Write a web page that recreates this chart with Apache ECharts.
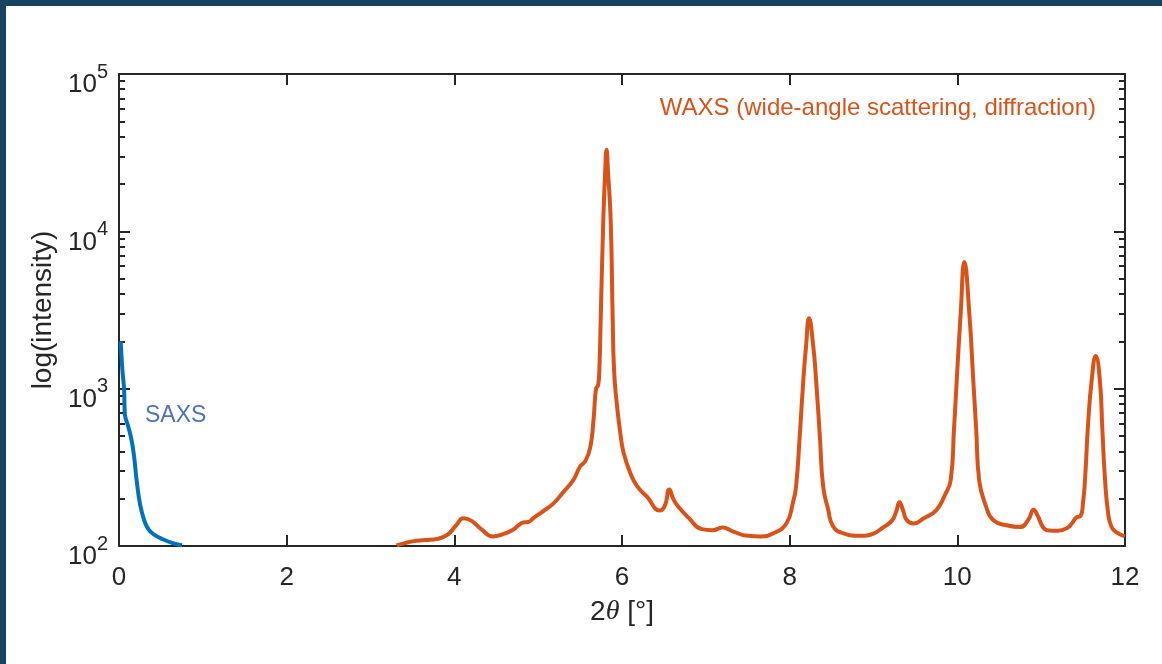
<!DOCTYPE html>
<html>
<head>
<meta charset="utf-8">
<script src="https://cdn.jsdelivr.net/npm/echarts@6/dist/echarts.min.js"></script>
<style>
html,body{margin:0;padding:0;background:#fff;}
#chart{width:1162px;height:664px;}
</style>
</head>
<body>
<div id="chart"></div>
<script>
// ---- data ----
const xTicks = [0, 2, 4, 6, 8, 10, 12];
const yMajor = [100, 1000, 10000, 100000];
const yMinor = [200,300,400,500,600,700,800,900,2000,3000,4000,5000,6000,7000,8000,9000,20000,30000,40000,50000,60000,70000,80000,90000];

const saxsData = [
  [0.02,2000],[0.04,1320],[0.06,1000],[0.07,690],[0.11,575],[0.15,470],[0.18,370],
  [0.21,263],[0.25,186],[0.30,146],[0.35,128],[0.41,119],[0.53,110],[0.65,104],[0.75,101]
];

const waxsData = [
  [3.31,101],[3.40,104],[3.50,107],[3.65,109],[3.80,111],[3.92,118],[4.02,135],[4.11,150],
  [4.20,145],[4.32,128],[4.46,115],[4.60,120],[4.70,127],[4.77,136],[4.82,141],[4.88,142],
  [4.94,150],[5.05,165],[5.18,186],[5.30,220],[5.42,263],[5.50,320],[5.56,345],[5.62,420],
  [5.66,630],[5.69,1000],[5.715,1050],[5.73,1320],[5.746,2770],[5.777,11800],[5.80,24500],
  [5.816,33000],[5.832,24500],[5.865,11800],[5.889,2770],[5.905,1320],[5.937,810],[5.98,520],
  [6.02,390],[6.10,290],[6.18,240],[6.30,205],[6.45,168],[6.51,180],[6.565,229],[6.61,200],
  [6.67,178],[6.80,150],[6.95,128],[7.08,126],[7.20,131],[7.32,124],[7.50,116],[7.65,115],
  [7.80,120],[7.96,139],[8.04,190],[8.076,238],[8.12,500],[8.163,1135],[8.195,1850],[8.231,2800],
  [8.282,1850],[8.315,1135],[8.36,500],[8.40,238],[8.46,170],[8.52,133],[8.65,120],[8.84,116],
  [9.00,120],[9.12,132],[9.22,145],[9.27,165],[9.31,190],[9.35,170],[9.40,145],[9.48,139],
  [9.60,150],[9.75,169],[9.85,210],[9.921,263],[9.96,550],[9.993,1135],[10.04,3010],[10.084,6380],
  [10.143,3010],[10.19,1135],[10.225,550],[10.26,263],[10.34,180],[10.43,146],[10.60,135],[10.75,132],
  [10.85,148],[10.91,170],[10.96,155],[11.02,132],[11.07,126],[11.20,125],[11.31,130],[11.37,140],
  [11.42,152],[11.47,155],[11.50,190],[11.523,263],[11.56,600],[11.603,1135],[11.651,1615],
  [11.70,1135],[11.73,550],[11.762,263],[11.80,160],[11.84,132],[11.90,122],[12.0,115]
];

const annotations = ['SAXS', 'WAXS (wide-angle scattering, diffraction)'];

// ---- chart ----
const FONT = 'Liberation Sans, Arial, Helvetica, sans-serif';
const AX = '#262626';
const chart = echarts.init(document.getElementById('chart'));

const tickFmt = v => '{b|10}{s|' + Math.round(Math.log10(v)) + '}';

const labelY = {
  type: 'log', logBase: 10, min: 100, max: 100000, position: 'left',
  axisLine: { show: true, onZero: false, lineStyle: { color: AX, width: 2 } },
  axisTick: { show: false },
  axisLabel: {
    show: true, formatter: tickFmt, margin: 11, padding: [12, 0, 0, 0],
    rich: {
      b: { fontSize: 26, fontFamily: FONT, color: AX, lineHeight: 36, verticalAlign: 'bottom' },
      s: { fontSize: 20, fontFamily: FONT, color: AX, lineHeight: 16, verticalAlign: 'top' }
    }
  },
  splitLine: { show: false },
  minorTick: { show: false },
  name: 'log(intensity)',
  nameLocation: 'middle', nameGap: 53,
  nameTextStyle: { fontSize: 28, fontFamily: FONT, color: AX }
};

function tickY(pos, values, len, line) {
  return {
    type: 'log', logBase: 10, min: 100, max: 100000, position: pos,
    axisLine: { show: line, onZero: false, lineStyle: { color: AX, width: 2 } },
    axisTick: { show: true, inside: true, length: len, customValues: values, lineStyle: { color: AX, width: 2 } },
    axisLabel: { show: false },
    splitLine: { show: false },
    minorTick: { show: false }
  };
}

chart.setOption({
  animation: false,
  backgroundColor: '#ffffff',
  grid: { left: 119, right: 37, top: 74, bottom: 118, outerBoundsMode: 'none', containLabel: false },
  xAxis: [
    {
      type: 'value', min: 0, max: 12, interval: 2, position: 'bottom',
      axisLine: { show: true, onZero: false, lineStyle: { color: AX, width: 2 } },
      axisTick: { show: true, inside: true, length: 11, lineStyle: { color: AX, width: 2 } },
      axisLabel: { show: true, margin: 19, fontSize: 26, fontFamily: FONT, color: AX },
      splitLine: { show: false },
      name: '{n|2}{t|θ}{n| [°]}',
      nameLocation: 'middle', nameGap: 52,
      nameTextStyle: {
        rich: {
          n: { fontSize: 28, fontFamily: FONT, color: AX },
          t: { fontSize: 28, fontFamily: 'Liberation Serif, DejaVu Serif, serif', fontStyle: 'italic', color: AX }
        }
      }
    },
    {
      type: 'value', min: 0, max: 12, interval: 2, position: 'top',
      axisLine: { show: true, onZero: false, lineStyle: { color: AX, width: 2 } },
      axisTick: { show: true, inside: true, length: 11, lineStyle: { color: AX, width: 2 } },
      axisLabel: { show: false },
      splitLine: { show: false }
    }
  ],
  yAxis: [
    labelY,
    tickY('right', yMajor, 11, true),
    tickY('left', yMajor, 11, false),
    tickY('left', yMinor, 6, false),
    tickY('right', yMinor, 6, false)
  ],
  series: [
    {
      name: 'SAXS', type: 'line', xAxisIndex: 0, yAxisIndex: 0,
      data: saxsData, showSymbol: false, smooth: 0.5,
      lineStyle: { color: '#0072BD', width: 4 }, itemStyle: { color: '#0072BD' }, z: 3
    },
    {
      name: 'WAXS', type: 'line', xAxisIndex: 0, yAxisIndex: 0,
      data: waxsData, showSymbol: false, smooth: 0.5,
      lineStyle: { color: '#D95319', width: 4 }, itemStyle: { color: '#D95319' }, z: 3
    }
  ],
  graphic: [
    { type: 'rect', left: 0, top: 0, shape: { width: 1162, height: 6 }, style: { fill: '#19445F' }, z: 100 },
    { type: 'rect', left: 0, top: 0, shape: { width: 6, height: 664 }, style: { fill: '#19445F' }, z: 100 },
    { type: 'text', left: 145, top: 404, style: { text: annotations[0], fontSize: 23, fontFamily: FONT, fill: '#4D74B9' } },
    { type: 'text', right: 66, top: 96, style: { text: annotations[1], fontSize: 24, fontFamily: FONT, fill: '#D95319' } }
  ]
});
</script>
</body>
</html>
